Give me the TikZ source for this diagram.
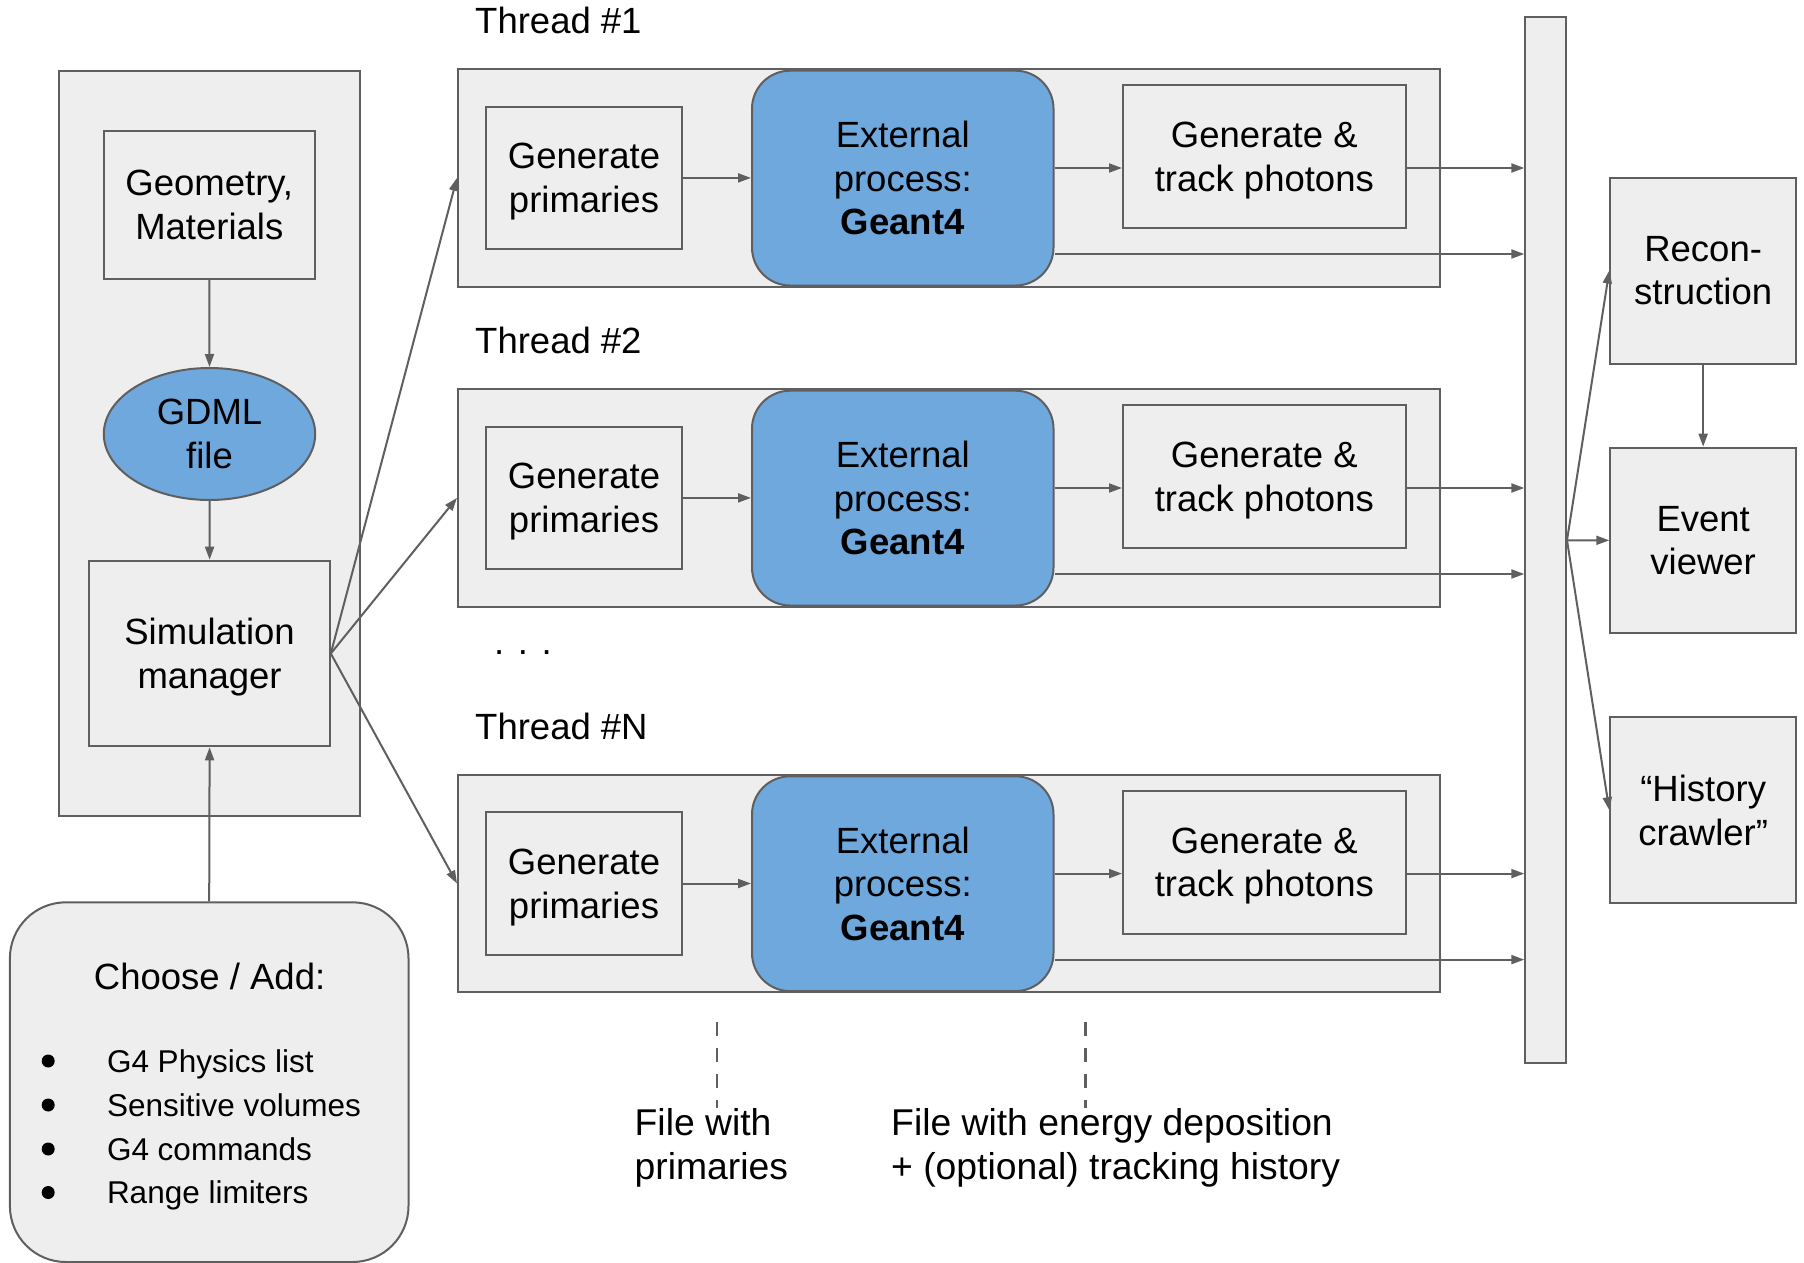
\documentclass[tikz,border=0pt]{standalone}
\usepackage{fontspec}
\setmainfont{Liberation Sans}
\usetikzlibrary{arrows.meta,shapes.geometric}
\definecolor{panelfill}{HTML}{EEEEEE}
\definecolor{edgegray}{HTML}{5F5F5F}
\definecolor{geantblue}{HTML}{6FA8DC}
\begin{document}
\begin{tikzpicture}[x=1pt,y=-1pt,
  txt/.style={font=\fontsize{36.5}{43.5}\selectfont, align=center, inner sep=0pt, text=black},
  boxtxt/.style={txt, text depth=-3pt},
  gbox/.style={boxtxt, draw=edgegray, fill=panelfill, line width=2pt, rectangle},
  procbox/.style={boxtxt, draw=edgegray, fill=geantblue, line width=2pt, rounded corners=38pt},
  conn/.style={draw=edgegray, line width=2pt, -{Triangle[length=13pt,width=9pt]}},
  dashline/.style={draw=edgegray, line width=2.6pt, dash pattern=on 14pt off 12pt},
  itemtxt/.style={txt, font=\fontsize{31.5}{44}\selectfont, anchor=base west},
  filetxt/.style={txt, font=\fontsize{37.3}{44.5}\selectfont, align=left, anchor=north west},
  bulletdot/.style={circle, fill=black, minimum size=13pt, inner sep=0pt},
]
\useasboundingbox (0,0) rectangle (1804,1263);

% left panel
\node[gbox, minimum width=301.5pt, minimum height=744.8pt] (panel) at (209.25,443.2) {};
\node[gbox, minimum width=211.4pt, minimum height=147.9pt] (geom) at (209.3,204.85) {Geometry,\\Materials};
\node[boxtxt, ellipse, draw=edgegray, fill=geantblue, line width=2pt, minimum width=211.4pt, minimum height=132pt] (gdml) at (209.5,434) {GDML\\file};
\node[gbox, minimum width=240.4pt, minimum height=185.6pt] (sim) at (209.6,653.5) {Simulation\\manager};
\draw[conn] (geom.south) -- (gdml.north);
\draw[conn] (gdml.south) -- (sim.north);

% choose box
\node[gbox, rounded corners=56pt, minimum width=398.6pt, minimum height=359.7pt] (choose) at (209.2,1082.15) {};
\node[txt, anchor=base] (choosetitle) at (209.6,989) {Choose / Add:};
\node[bulletdot] (bl1) at (48.2,1061) {};
\node[bulletdot] (bl2) at (48.2,1105) {};
\node[bulletdot] (bl3) at (48.2,1149) {};
\node[bulletdot] (bl4) at (48.2,1192.5) {};
\node[itemtxt] (it1) at (106.8,1072.3) {G4 Physics list};
\node[itemtxt] (it2) at (106.8,1116.3) {Sensitive volumes};
\node[itemtxt] (it3) at (106.8,1160.3) {G4 commands};
\node[itemtxt] (it4) at (106.8,1203.8) {Range limiters};
\draw[conn] (choose.north) -- (sim.south);

% collector bar and right boxes
\node[gbox, minimum width=40.7pt, minimum height=1045.5pt] (bar) at (1545.65,540.25) {};
\node[gbox, minimum width=185.7pt, minimum height=186pt] (recon) at (1703.15,270.5) {Recon-\\struction};
\node[gbox, minimum width=185.7pt, minimum height=185.3pt] (event) at (1703.15,540.35) {Event\\viewer};
\node[gbox, minimum width=185.7pt, minimum height=186pt] (hist) at (1703.15,810.2) {“History\\crawler”};
\draw[conn] (bar.east) -- (recon.west);
\draw[conn] (bar.east) -- (event.west);
\draw[conn] (bar.east) -- (hist.west);
\draw[conn] (recon.south) -- (event.north);

% threads
\foreach \i/\t in {1/69, 2/389, N/774.6} {
  \node[gbox, minimum width=982pt, minimum height=217.7pt] (thr\i) at (949,{\t+108.85}) {};
  \node[txt, anchor=base west] (lab\i) at (475,{\t-35.5}) {Thread \#\i};
  \node[gbox, minimum width=196pt, minimum height=142.8pt] (gen\i) at (584,{\t+108.9}) {Generate\\primaries};
  \node[procbox, minimum width=301.5pt, minimum height=214.8pt] (ext\i) at (902.75,{\t+109.1}) {External\\process:\\\textbf{Geant4}};
  \node[gbox, minimum width=282.6pt, minimum height=143.3pt] (trk\i) at (1264.3,{\t+87.65}) {Generate \&\\track photons};
  \coordinate (r\i) at (0,{\t+99});
  \coordinate (q\i) at (0,{\t+185});
  \draw[conn] (gen\i.east) -- (ext\i.west |- gen\i.east);
  \draw[conn] (ext\i.east |- r\i) -- (trk\i.west |- r\i);
  \draw[conn] (trk\i.east |- r\i) -- (bar.west |- r\i);
  \draw[conn] (ext\i.east |- q\i) -- (bar.west |- q\i);
  \draw[conn] (sim.east) -- (thr\i.west);
}

\node[txt, anchor=base west] (dots) at (494,654.5) {. . .};

% file labels
\node[filetxt] (fp) at (634.5,1108) {File with\\primaries};
\node[filetxt] (fe) at (891,1108) {File with energy deposition\\+ (optional) tracking history};
\coordinate (d1) at (717,1022);
\coordinate (d2) at (1085.4,1022);
\draw[dashline] (d1) -- (d1 |- fp.north);
\draw[dashline] (d2) -- (d2 |- fe.north);
\end{tikzpicture}
\end{document}
